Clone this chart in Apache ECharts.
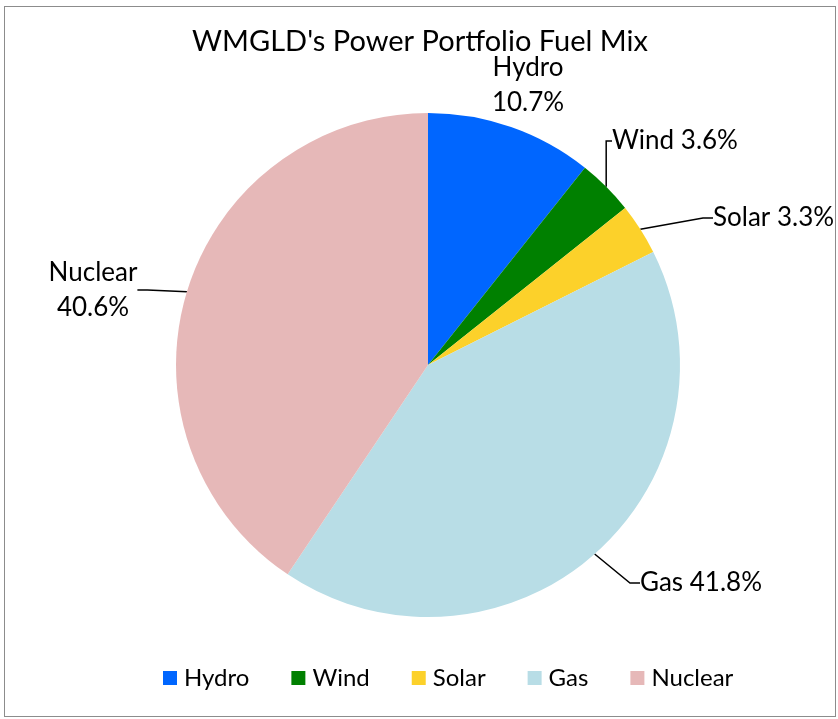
<!DOCTYPE html>
<html>
<head>
    <meta charset="utf-8">
    <script src="https://cdn.jsdelivr.net/npm/echarts@6/dist/echarts.min.js"></script>
    <style>
        html, body { margin: 0; padding: 0; background: #fff; }
        #main { position: absolute; left: 4px; top: 6px; width: 832px; height: 711px; border: 1px solid #8c8c8c; box-sizing: border-box; }
    </style>
</head>
<body>
    <div id="main"></div>
    <script type="text/javascript">
        // data
        var titleText = "WMGLD's Power Portfolio Fuel Mix";
        var fuels = ['Hydro', 'Wind', 'Solar', 'Gas', 'Nuclear'];
        var shares = [10.7, 3.6, 3.3, 41.8, 40.6];
        var colors = ['#0066ff', '#008000', '#fcd12a', '#b8dde6', '#e6b8b8'];

        var font = 'Lato';

        // where each label sits (relative to the chart box)
        var labelSpots = {
            Hydro: { x: 523, y: 78, align: 'center', line: false },
            Wind: { x: 607, y: 134, align: 'left' },
            Solar: { x: 708, y: 211, align: 'left' },
            Gas: { x: 635, y: 576, align: 'left' },
            Nuclear: { x: 88, y: 283, align: 'center' }
        };

        var myChart = echarts.init(document.getElementById('main'));

        myChart.setOption({
            animation: false,
            color: colors,
            title: {
                text: titleText,
                left: 'center',
                top: 15,
                textStyle: { fontFamily: font, fontSize: 29, fontWeight: 'normal', color: '#000' }
            },
            legend: {
                data: fuels,
                bottom: 21,
                left: 153,
                itemWidth: 14,
                itemHeight: 14,
                itemGap: 42,
                icon: 'rect',
                textStyle: { fontFamily: font, fontSize: 24, color: '#000', padding: [0, 0, 0, 2] }
            },
            series: [{
                type: 'pie',
                center: [423, 358],
                radius: 252,
                startAngle: 90,
                clockwise: true,
                label: {
                    show: true,
                    fontFamily: font,
                    fontSize: 26,
                    color: '#000',
                    lineHeight: 35,
                    formatter: function (p) {
                        return (p.name === 'Hydro' || p.name === 'Nuclear')
                            ? p.name + '\n' + p.value.toFixed(1) + '%'
                            : p.name + ' ' + p.value.toFixed(1) + '%';
                    }
                },
                labelLine: {
                    show: true,
                    length: 20,
                    length2: 10,
                    lineStyle: { color: '#000', width: 1.5 }
                },
                labelLayout: function (params) {
                    var name = fuels[params.dataIndex];
                    var s = labelSpots[name];
                    return {
                        x: s.x,
                        y: s.y,
                        align: s.align,
                        verticalAlign: 'middle'
                    };
                },
                itemStyle: { borderWidth: 0 },
                emphasis: { disabled: true },
                data: fuels.map(function (f, i) {
                    var item = { name: f, value: shares[i] };
                    if (labelSpots[f].line === false) item.labelLine = { show: false };
                    return item;
                })
            }]
        });
    </script>
</body>
</html>
